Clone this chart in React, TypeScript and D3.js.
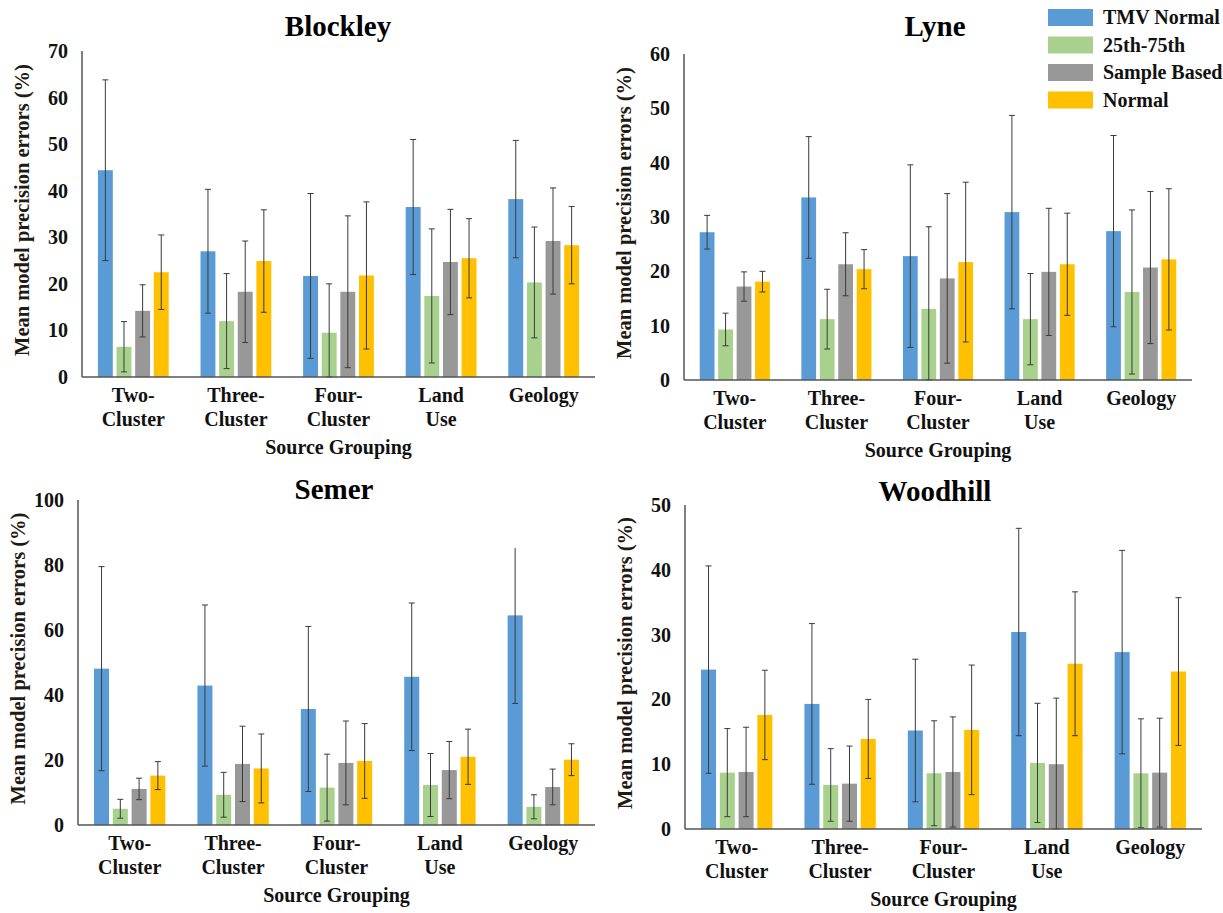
import React from "react";
import * as d3 from "d3";

const categories: string[][] = [["Two-", "Cluster"], ["Three-", "Cluster"], ["Four-", "Cluster"], ["Land", "Use"], ["Geology"]];
const seriesNames = ["TMV Normal", "25th-75th", "Sample Based", "Normal"];
const seriesColors = ["#5B9BD5", "#A9D18E", "#989898", "#FFC000"];

// mean per category: [TMV Normal, 25th-75th, Sample Based, Normal]
const blockleyMean = [[44.4, 6.5, 14.2, 22.5], [27.0, 12.0, 18.3, 24.9], [21.7, 9.5, 18.3, 21.8], [36.5, 17.4, 24.7, 25.5], [38.2, 20.3, 29.2, 28.3]];
const blockleyErr = [[19.4, 5.4, 5.6, 8.0], [13.3, 10.2, 10.9, 11.0], [17.7, 10.5, 16.3, 15.8], [14.5, 14.4, 11.3, 8.5], [12.6, 11.9, 11.4, 8.3]];

const lyneMean = [[27.2, 9.3, 17.2, 18.1], [33.6, 11.2, 21.3, 20.4], [22.8, 13.1, 18.7, 21.7], [30.9, 11.2, 19.9, 21.3], [27.4, 16.2, 20.7, 22.2]];
const lyneErr = [[3.1, 3.0, 2.7, 1.9], [11.2, 5.5, 5.8, 3.6], [16.8, 15.1, 15.6, 14.7], [17.8, 8.4, 11.7, 9.4], [17.6, 15.1, 14.0, 13.0]];

const semerMean = [[48.1, 5.0, 11.1, 15.2], [42.9, 9.3, 18.8, 17.4], [35.7, 11.5, 19.1, 19.7], [45.6, 12.3, 16.9, 21.0], [64.5, 5.6, 11.7, 20.1]];
const semerErr = [[31.4, 2.9, 3.3, 4.3], [24.8, 6.9, 11.6, 10.6], [25.4, 10.3, 12.9, 11.5], [22.7, 9.7, 8.8, 8.5], [27.1, 3.7, 5.5, 4.9]];
const semerErrTopLimit = 85.2; // upper whiskers are cut here in the original figure

const woodhillMean = [[24.6, 8.7, 8.8, 17.6], [19.3, 6.8, 7.0, 13.9], [15.2, 8.6, 8.8, 15.3], [30.4, 10.2, 10.0, 25.5], [27.3, 8.6, 8.7, 24.3]];
const woodhillErr = [[16.0, 6.8, 6.9, 6.9], [12.4, 5.6, 5.8, 6.1], [11.0, 8.1, 8.5, 10.0], [16.0, 9.2, 10.2, 11.1], [15.7, 8.4, 8.4, 11.4]];

const blockleyTicks = [0, 10, 20, 30, 40, 50, 60, 70];
const lyneTicks = [0, 10, 20, 30, 40, 50, 60];
const semerTicks = [0, 20, 40, 60, 80, 100];
const woodhillTicks = [0, 10, 20, 30, 40, 50];

const FONT = "'Liberation Serif', 'Times New Roman', serif";

type PanelProps = {
  title: string;
  mean: number[][];
  err: number[][];
  ticks: number[];
  x0: number;
  x1: number;
  yTop: number;
  yBase: number;
  titleX: number;
  titleY: number;
  errTop?: number;
};

function Panel({ title, mean, err, ticks, x0, x1, yTop, yBase, titleX, titleY, errTop }: PanelProps) {
  const maxV = ticks[ticks.length - 1];
  const y = d3.scaleLinear().domain([0, maxV]).range([yBase, yTop]);
  const xb = d3.scaleBand<number>().domain(d3.range(categories.length)).range([x0, x1]).padding(0);
  const groupW = xb.bandwidth() * 0.69;
  const xs = d3.scaleBand<number>().domain(d3.range(seriesNames.length)).range([0, groupW]).paddingInner(0.2);
  const cx = (x0 + x1) / 2;
  const cy = (yTop + yBase) / 2;
  const limit = errTop ?? Infinity;
  return (
    <g>
      <text x={titleX} y={titleY} textAnchor="middle" fontFamily={FONT} fontWeight="bold" fontSize={29} fill="#000">{title}</text>
      {ticks.map((t) => (
        <text key={t} x={x0 - 14} y={y(t)} dy="0.35em" textAnchor="end" fontFamily={FONT} fontWeight="bold" fontSize={20} fill="#111">{t}</text>
      ))}
      <text transform={`translate(${x0 - 60},${cy - 4}) rotate(-90)`} textAnchor="middle" dy="0.35em" fontFamily={FONT} fontWeight="bold" fontSize={20.5} fill="#1f1a12">Mean model precision errors (%)</text>
      {mean.map((row, ci) => {
        const gx = (xb(ci) as number) + (xb.bandwidth() - groupW) / 2;
        return (
          <g key={ci}>
            {row.map((v, si) => {
              const bx = gx + (xs(si) as number);
              return (
                <rect key={si} x={bx} y={y(v)} width={xs.bandwidth()} height={yBase - y(v)} fill={seriesColors[si]} />
              );
            })}
            {row.map((v, si) => {
              const mx = gx + (xs(si) as number) + xs.bandwidth() / 2;
              const hiV = v + err[ci][si];
              const cut = hiV > limit;
              const hi = y(Math.min(hiV, limit));
              const lo = y(Math.max(0, v - err[ci][si]));
              return (
                <g key={"e" + si} stroke="#3a3a3a" strokeWidth={1}>
                  <line x1={mx} x2={mx} y1={hi} y2={lo} />
                  {!cut && <line x1={mx - 3} x2={mx + 3} y1={hi} y2={hi} />}
                  <line x1={mx - 3} x2={mx + 3} y1={lo} y2={lo} />
                </g>
              );
            })}
          </g>
        );
      })}
      <line x1={x0} x2={x0} y1={yTop} y2={yBase} stroke="#555" strokeWidth={1.5} />
      <line x1={x0} x2={x1} y1={yBase} y2={yBase} stroke="#555" strokeWidth={1.5} />
      {categories.map((lines, ci) => {
        const lx = (xb(ci) as number) + xb.bandwidth() / 2;
        return (
          <text key={ci} x={lx} y={yBase + 25} textAnchor="middle" fontFamily={FONT} fontWeight="bold" fontSize={20} fill="#111">
            {lines.map((l, li) => (
              <tspan key={li} x={lx} dy={li === 0 ? 0 : 24}>{l}</tspan>
            ))}
          </text>
        );
      })}
      <text x={cx} y={yBase + 77} textAnchor="middle" fontFamily={FONT} fontWeight="bold" fontSize={20} fill="#111">Source Grouping</text>
    </g>
  );
}

function Legend({ x, y }: { x: number; y: number }) {
  return (
    <g>
      {seriesNames.map((n, i) => (
        <g key={n}>
          <rect x={x} y={y + i * 27.5} width={45} height={17} fill={seriesColors[i]} />
          <text x={x + 55} y={y + i * 27.5 + 15} fontFamily={FONT} fontWeight="bold" fontSize={20} fill="#111">{n}</text>
        </g>
      ))}
    </g>
  );
}

export default function App() {
  return (
    <svg width={1223} height={913} style={{ position: "absolute", left: 0, top: 0, background: "#fff" }}>
      <rect width={1223} height={913} fill="#fff" />
      <Panel title="Blockley" mean={blockleyMean} err={blockleyErr} ticks={blockleyTicks} x0={82} x1={595} yTop={51} yBase={377} titleX={338} titleY={36} />
      <Panel title="Lyne" mean={lyneMean} err={lyneErr} ticks={lyneTicks} x0={684} x1={1192} yTop={54} yBase={380} titleX={935} titleY={36} />
      <Panel title="Semer" mean={semerMean} err={semerErr} ticks={semerTicks} x0={78} x1={595} yTop={500} yBase={825} titleX={334} titleY={499} errTop={semerErrTopLimit} />
      <Panel title="Woodhill" mean={woodhillMean} err={woodhillErr} ticks={woodhillTicks} x0={685} x1={1202} yTop={505} yBase={829} titleX={935} titleY={501} />
      <Legend x={1048} y={9} />
    </svg>
  );
}
